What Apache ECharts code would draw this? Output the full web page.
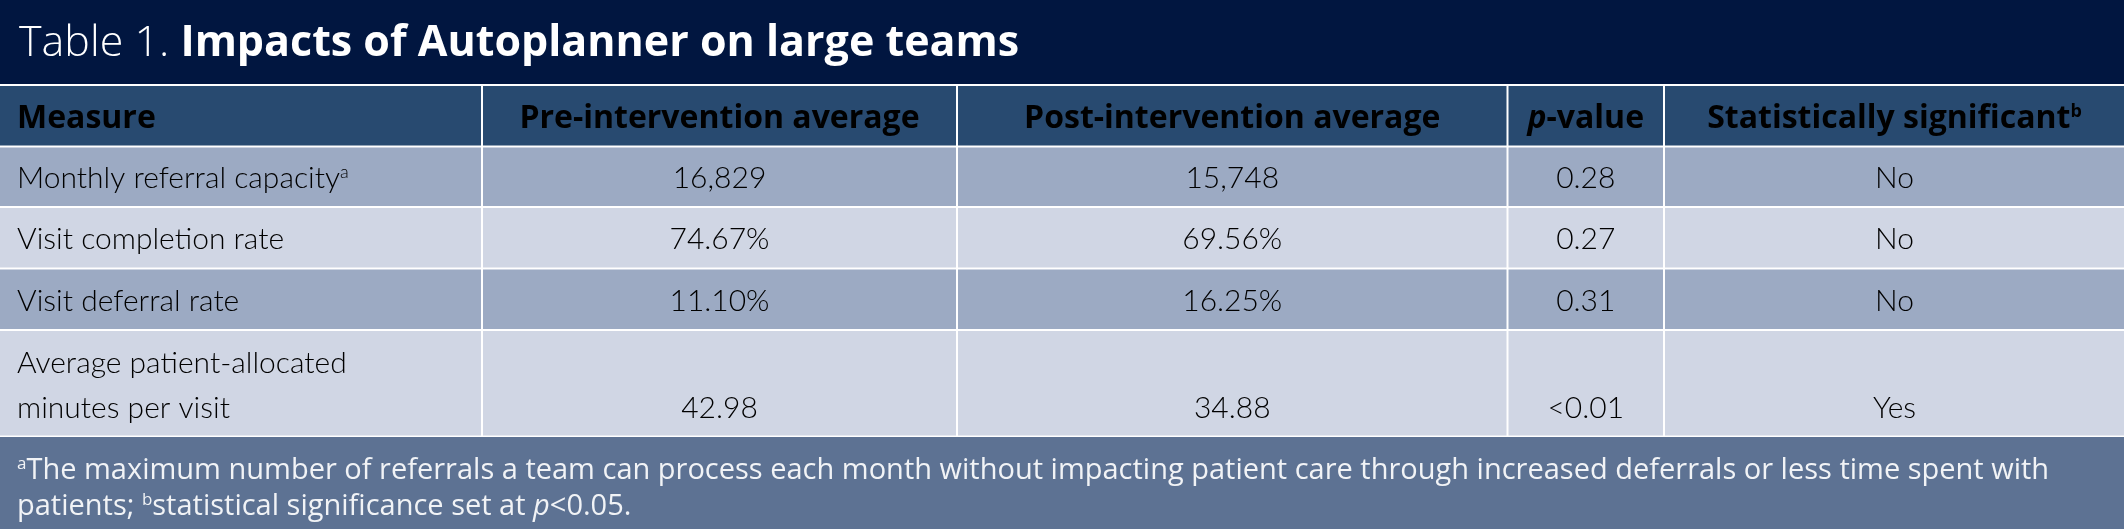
<!DOCTYPE html>
<html>
<head>
<meta charset="utf-8">
<title>Table 1. Impacts of Autoplanner on large teams</title>
<script src="https://cdn.jsdelivr.net/npm/echarts@6/dist/echarts.min.js"></script>
<style>
  html, body { margin: 0; padding: 0; background: #fff; }
  #chart { width: 2124px; height: 529px; }
</style>
</head>
<body>
<div id="chart"></div>
<script>
// ==============================================================
// table content
// ==============================================================
var headers = ['Measure', 'Pre-intervention average', 'Post-intervention average', 'p-value', 'Statistically significant'];
var headerNotes = ['', '', '', '', 'b'];
var measures = ['Monthly referral capacity', 'Visit completion rate', 'Visit deferral rate', 'Average patient-allocated\nminutes per visit'];
var measureNotes = ['a', '', '', ''];
var preAverages = ['16,829', '74.67%', '11.10%', '42.98'];
var postAverages = ['15,748', '69.56%', '16.25%', '34.88'];
var pValues = ['0.28', '0.27', '0.31', '<0.01'];
var significant = ['No', 'No', 'No', 'Yes'];

// ==============================================================
// layout (px in the 2124 x 529 frame)
// ==============================================================
var colEdges = [-1, 482, 957, 1507.5, 1664, 2125];
var rowEdges = [85, 146.5, 207, 268.5, 330, 436.5];
var FONT = "'Open Sans', sans-serif";
var BODY_FONT = "Lato, 'Open Sans', sans-serif";

var columns = [measures, preAverages, postAverages, pValues, significant];

function headerText(c) {
    var t = headers[c];
    if (t.indexOf('p-') === 0) {
        t = '{hi|p}{h|' + t.slice(1) + '}';
    } else {
        t = '{h|' + t + '}';
    }
    if (headerNotes[c]) t += '{hs|' + headerNotes[c] + '}';
    return t;
}

function bodyText(c, r) {
    var t = columns[c][r];
    if (c === 0) {
        var lines = t.split('\n').map(function (s) { return '{b|' + s + '}'; });
        t = lines.join('\n');
        if (measureNotes[r]) t += '{bs|' + measureNotes[r] + '}';
        return t;
    }
    return '{b|' + t + '}';
}

var cellRich = {
    h: { fontFamily: FONT, fontSize: 32, fontWeight: 700, color: '#ffffff', lineHeight: 45 },
    hi: { fontFamily: FONT, fontSize: 32, fontWeight: 700, fontStyle: 'italic', color: '#ffffff', lineHeight: 45 },
    hs: { fontFamily: FONT, fontSize: 18, fontWeight: 700, color: '#ffffff', lineHeight: 18, padding: [0, 0, 14, 0] },
    b: { fontFamily: BODY_FONT, fontSize: 30, fontWeight: 300, color: '#15181d', lineHeight: 45 },
    bs: { fontFamily: BODY_FONT, fontSize: 18, fontWeight: 300, color: '#15181d', lineHeight: 18, padding: [0, 0, 14, 0] }
};

var cells = [];
for (var r = 0; r <= measures.length; r++) {
    for (var c = 0; c < headers.length; c++) {
        cells.push([c, r]);
    }
}

function renderCell(params, api) {
    var c = api.value(0);
    var r = api.value(1);
    var p0 = api.coord([colEdges[c], rowEdges[r]]);
    var p1 = api.coord([colEdges[c + 1], rowEdges[r + 1]]);
    var x = p0[0] + 1, y = p0[1] + 1;
    var w = p1[0] - p0[0] - 2, h = p1[1] - p0[1] - 2;
    var fill = r === 0 ? '#284a70' : (r % 2 ? '#9caac3' : '#d0d6e4');
    var tx = c === 0 ? x + 17 : x + w / 2;
    var ty = y + h / 2 + (r === 0 ? 3.5 : 2);
    if (r === measures.length && c > 0) ty += 23.5;
    if (r === measures.length && c === 0) ty += 1;
    return {
        type: 'group',
        children: [{
            type: 'rect',
            shape: { x: x, y: y, width: w, height: h },
            style: { fill: fill }
        }, {
            type: 'text',
            x: tx,
            y: ty,
            style: {
                text: r === 0 ? headerText(c) : bodyText(c, r - 1),
                rich: cellRich,
                align: c === 0 ? 'left' : 'center',
                verticalAlign: 'middle'
            }
        }]
    };
}

var chart = echarts.init(document.getElementById('chart'));
var option = {
    animation: false,
    graphic: [{
        type: 'rect', left: 0, top: 0, z: -1,
        shape: { width: 2124, height: 84 },
        style: { fill: '#011640' }
    }, {
        type: 'rect', left: 0, top: 437, z: -1,
        shape: { width: 2124, height: 92 },
        style: { fill: '#5d7293' }
    }],
    title: [{
        left: 19,
        top: 19,
        padding: 0,
        text: '{l|Table 1. }{b|Impacts of Autoplanner on large teams}',
        textStyle: {
            rich: {
                l: { fontFamily: FONT, fontSize: 43, fontWeight: 300, color: '#ffffff', lineHeight: 50 },
                b: { fontFamily: FONT, fontSize: 43, fontWeight: 700, color: '#ffffff', lineHeight: 50 }
            }
        }
    }, {
        left: 17,
        top: 453,
        padding: 0,
        text: '{s|a}{f|The maximum number of referrals a team can process each month without impacting patient care through increased deferrals or less time spent with}\n' +
            '{f|patients; }{s|b}{f|statistical significance set at }{i|p}{f|<0.05.}',
        textStyle: {
            rich: {
                f: { fontFamily: FONT, fontSize: 29, fontWeight: 400, color: '#f1f3f6', lineHeight: 36 },
                i: { fontFamily: FONT, fontSize: 29, fontWeight: 400, fontStyle: 'italic', color: '#f1f3f6', lineHeight: 36 },
                s: { fontFamily: FONT, fontSize: 17, fontWeight: 400, color: '#f1f3f6', lineHeight: 17, padding: [0, 0, 14, 0] }
            }
        }
    }],
    grid: { left: 0, right: 0, top: 0, bottom: 0 },
    xAxis: { type: 'value', min: 0, max: 2124, show: false },
    yAxis: { type: 'value', min: 0, max: 529, inverse: true, show: false },
    series: [{
        type: 'custom',
        renderItem: renderCell,
        data: cells,
        silent: true
    }]
};
chart.setOption(option);
</script>
</body>
</html>
